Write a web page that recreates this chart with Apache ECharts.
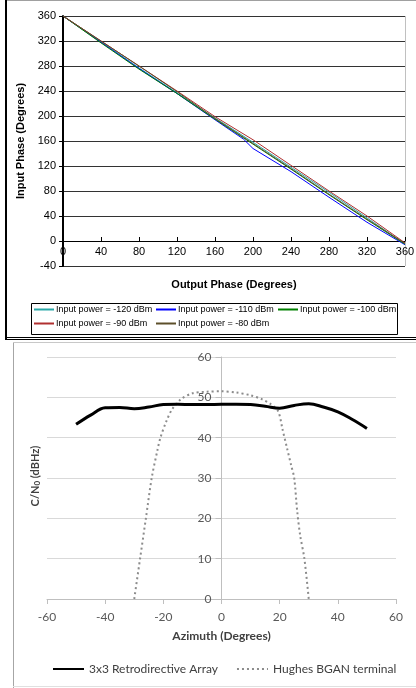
<!DOCTYPE html>
<html>
<head>
<meta charset="utf-8">
<script src="https://cdn.jsdelivr.net/npm/echarts@6/dist/echarts.min.js"></script>
<style>
  html, body { margin: 0; padding: 0; background: #fff; }
  #chart { width: 416px; height: 688px; }
</style>
</head>
<body>
<div id="chart"></div>
<script>
// top chart: output phase vs input phase
const phaseX = [0, 40, 80, 120, 160, 200, 240, 280, 320, 360];
const p120 = [360, 319, 277, 237, 197, 158, 118, 78, 37, -5];
const p110x = [0, 40, 80, 120, 160, 190, 200, 240, 280, 320, 360];
const p110 = [360, 318, 276, 236, 194, 163, 148, 111, 70, 30, -6];
const p100 = [360, 317, 275, 236, 195, 155, 115, 74, 34, -5];
const p90 = [360, 320, 280, 240, 199, 162, 121, 80, 40, -3];
const p80 = [360, 320, 280, 239, 196, 156, 116, 75, 35, -4];
const phaseNames = ['Input power = -120 dBm', 'Input power = -110 dBm', 'Input power = -100 dBm',
  'Input power = -90 dBm', 'Input power = -80 dBm'];

// bottom chart: azimuth vs C/N0
const azA = [-50, -45, -40, -35, -30, -25, -20, -15, -10, -5, 0, 5, 10, 15, 20, 25, 30, 35, 40, 45, 50];
const cnA = [43.3, 45.6, 47.4, 47.5, 47.2, 47.6, 48.2, 48.3, 48.2, 48.2, 48.3, 48.3, 48.2, 47.8, 47.3, 48.0, 48.4, 47.6, 46.4, 44.5, 42.3];
const azB = [-30, -28, -26, -24, -22, -21, -19, -17, -14, -10, -5, 0, 5, 10, 14, 17, 19.5, 21, 22.5, 24, 25, 26, 27, 28.5, 30];
const cnB = [0, 10, 20, 30, 37, 40, 44, 47, 49.5, 51, 51.4, 51.5, 51.2, 50.5, 49.5, 48.3, 46.5, 42, 37.5, 33, 30, 22, 16, 10, 0];
const azNames = ['3x3 Retrodirective Array', 'Hughes BGAN terminal'];

const pairs = (xs, ys) => xs.map((x, i) => [x, ys[i]]);

const chart = echarts.init(document.getElementById('chart'));
const arial = 'Liberation Sans, Arial, sans-serif';
const calibri = 'Lato, Open Sans, sans-serif';

const topColors = ['#2aa8a8', '#0000ff', '#008000', '#b03030', '#5c4f2a'];
const topData = [pairs(phaseX, p120), pairs(p110x, p110), pairs(phaseX, p100), pairs(phaseX, p90), pairs(phaseX, p80)];

const topSeries = phaseNames.map((name, i) => ({
  name: name,
  type: 'line',
  xAxisIndex: 0,
  yAxisIndex: 0,
  data: topData[i],
  symbol: 'none',
  lineStyle: { color: topColors[i], width: 1 },
  itemStyle: { color: topColors[i] },
  z: 3 + i
}));

const legendBase = {
  orient: 'vertical',
  top: 305,
  itemWidth: 20,
  itemHeight: 10,
  itemGap: 5,
  padding: 0,
  itemStyle: { opacity: 0 },
  textStyle: { fontFamily: arial, fontSize: 9, color: '#000', padding: [0, 0, 0, -3] }
};

chart.setOption({
  animation: false,
  backgroundColor: '#fff',
  grid: [
    { left: 63, top: 16, width: 342, height: 250, outerBoundsMode: 'none' },
    { left: 47, top: 357, width: 349, height: 242, outerBoundsMode: 'none' }
  ],
  legend: [
    Object.assign({}, legendBase, { left: 33, data: [phaseNames[0], phaseNames[3]] }),
    Object.assign({}, legendBase, { left: 155, data: [phaseNames[1], phaseNames[4]] }),
    Object.assign({}, legendBase, { left: 277, data: [phaseNames[2]] }),
    {
      top: 663,
      left: 52,
      itemWidth: 31,
      itemHeight: 12,
      itemGap: 18,
      padding: 0,
      itemStyle: { opacity: 0 },
      data: azNames,
      textStyle: { fontFamily: calibri, fontSize: 12, color: '#404040' }
    }
  ],
  xAxis: [
    {
      // moved up from the grid bottom (-40) to the 0 line
      gridIndex: 0, type: 'value', min: 0, max: 360, interval: 40, offset: -25,
      axisLine: { onZero: false, lineStyle: { color: '#000', width: 1 } },
      axisTick: { show: true, inside: true, length: 4, lineStyle: { color: '#000' } },
      axisLabel: { fontFamily: arial, fontSize: 11, color: '#000', margin: 5 },
      splitLine: { show: false }
    },
    {
      gridIndex: 1, type: 'value', min: -60, max: 60, interval: 20,
      name: 'Azimuth (Degrees)', nameLocation: 'middle', nameGap: 31,
      nameTextStyle: { fontFamily: calibri, fontSize: 12, fontWeight: 'bold', color: '#404040' },
      axisLine: { onZero: false, lineStyle: { color: '#bfbfbf', width: 1 } },
      axisTick: { show: true, length: 5, lineStyle: { color: '#bfbfbf' } },
      axisLabel: { fontFamily: calibri, fontSize: 12, color: '#595959', margin: 12 },
      splitLine: { show: false }
    }
  ],
  yAxis: [
    {
      gridIndex: 0, type: 'value', min: -40, max: 360, interval: 40,
      name: 'Input Phase (Degrees)', nameLocation: 'middle', nameGap: 33,
      nameTextStyle: { fontFamily: arial, fontSize: 11, fontWeight: 'bold', color: '#000' },
      axisLine: { show: true, onZero: false, lineStyle: { color: '#000', width: 2 } },
      axisTick: { show: true, length: 4, lineStyle: { color: '#000' } },
      axisLabel: { fontFamily: arial, fontSize: 11, color: '#000', margin: 7 },
      splitLine: { show: true, lineStyle: { color: '#333', width: 1 } }
    },
    {
      // moved right to azimuth 0
      gridIndex: 1, type: 'value', min: 0, max: 60, interval: 10, offset: -174.5,
      axisLine: { show: true, onZero: false, lineStyle: { color: '#bfbfbf', width: 1 } },
      axisTick: { show: true, length: 6, lineStyle: { color: '#bfbfbf' } },
      axisLabel: { fontFamily: calibri, fontSize: 12, color: '#595959', margin: 10 },
      splitLine: { show: true, lineStyle: { color: '#d9d9d9', width: 1 } }
    }
  ],
  series: topSeries.concat([
    {
      name: azNames[0], type: 'line', xAxisIndex: 1, yAxisIndex: 1,
      data: pairs(azA, cnA), symbol: 'none', smooth: 0.4,
      lineStyle: { color: '#000', width: 3 }, itemStyle: { color: '#000' }, z: 4
    },
    {
      name: azNames[1], type: 'line', xAxisIndex: 1, yAxisIndex: 1,
      data: pairs(azB, cnB), symbol: 'none', smooth: 0.3,
      lineStyle: { color: '#8c8c8c', width: 2, type: [2, 3] }, itemStyle: { color: '#8c8c8c' }, z: 3
    }
  ]),
  graphic: [
    // axis titles
    {
      type: 'text', x: 234, y: 285, silent: true,
      style: { text: 'Output Phase (Degrees)', font: 'bold 11px Liberation Sans, Arial, sans-serif', fill: '#000', align: 'center', verticalAlign: 'middle' }
    },
    {
      type: 'text', x: 35, y: 476, rotation: Math.PI / 2, silent: true,
      style: {
        text: '{a|C/N}{s|0}{a| (dBHz)}', align: 'center', verticalAlign: 'middle',
        rich: {
          a: { font: 'bold 11px Lato, Open Sans, sans-serif', fill: '#404040' },
          s: { font: 'bold 8px Lato, Open Sans, sans-serif', fill: '#404040', padding: [5, 0, 0, 0] }
        }
      }
    },
    // top chart frame
    { type: 'line', shape: { x1: 6, y1: 0.5, x2: 416, y2: 0.5 }, style: { stroke: '#a0a0a0', lineWidth: 1 }, silent: true },
    { type: 'line', shape: { x1: 6, y1: 0, x2: 6, y2: 339 }, style: { stroke: '#000', lineWidth: 2 }, silent: true },
    { type: 'line', shape: { x1: 5, y1: 337.5, x2: 416, y2: 337.5 }, style: { stroke: '#000', lineWidth: 1 }, silent: true },
    { type: 'line', shape: { x1: 5, y1: 339.5, x2: 416, y2: 339.5 }, style: { stroke: '#000', lineWidth: 1 }, silent: true },
    { type: 'line', shape: { x1: 405.5, y1: 16, x2: 405.5, y2: 266 }, style: { stroke: '#c0c0c0', lineWidth: 1 }, silent: true },
    // legend box
    { type: 'rect', shape: { x: 31.5, y: 303.5, width: 366, height: 31 }, style: { fill: null, stroke: '#000', lineWidth: 1 }, silent: true },
    // bottom chart frame
    { type: 'line', shape: { x1: 13.5, y1: 342, x2: 13.5, y2: 688 }, style: { stroke: '#a6a6a6', lineWidth: 1 }, silent: true },
    { type: 'line', shape: { x1: 13, y1: 342.5, x2: 416, y2: 342.5 }, style: { stroke: '#c8c8c8', lineWidth: 1 }, silent: true },
    { type: 'line', shape: { x1: 13, y1: 686.5, x2: 416, y2: 686.5 }, style: { stroke: '#e0e0e0', lineWidth: 1 }, silent: true }
  ]
});
</script>
</body>
</html>
